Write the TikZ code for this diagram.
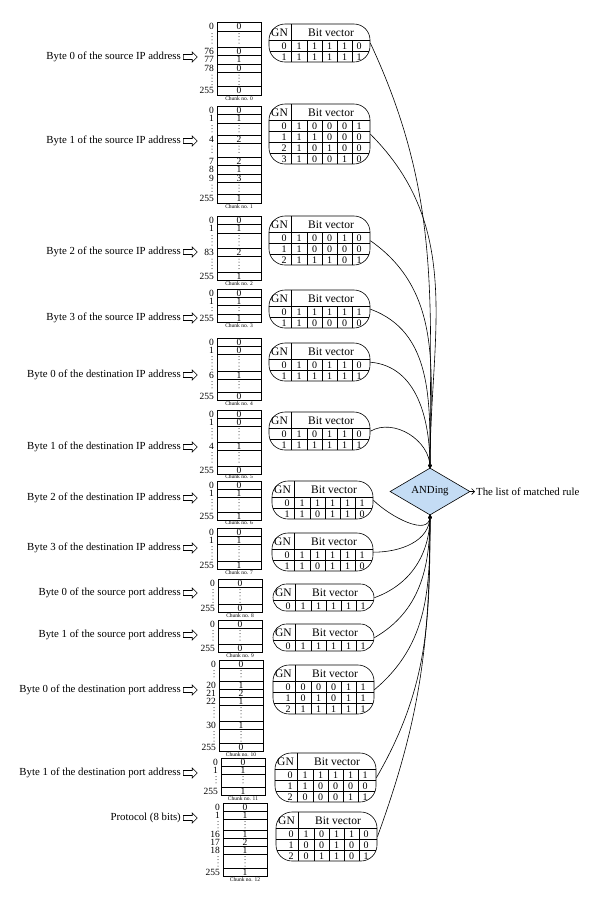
\documentclass[tikz,border=0pt]{standalone}
\usepackage{fontspec}
\setmainfont{Liberation Serif}
\usetikzlibrary{shapes.geometric,shapes.arrows,arrows.meta}
\definecolor{andblue}{RGB}{196,220,244}
\tikzset{
 cline/.style={line width=0.6pt},
 cdots/.style={line width=1pt, line cap=round, dash pattern=on 0pt off 3.2pt},
 cnum/.style={font=\fontsize{9.5}{9.5}\selectfont, inner sep=0pt},
 cval/.style={font=\fontsize{9.5}{9.5}\selectfont, inner sep=0pt},
 ccap/.style={font=\fontsize{5.5}{5.5}\selectfont, inner sep=0pt},
 tline/.style={line width=0.6pt},
 tt/.style={font=\fontsize{10}{10}\selectfont, inner sep=0pt},
 th/.style={font=\fontsize{11.5}{11.5}\selectfont, inner sep=0pt},
 lab/.style={font=\fontsize{10.8}{12}\selectfont, inner sep=0pt},
 harrow/.style={draw, line width=0.6pt, single arrow, minimum height=14pt, inner xsep=0pt, inner ysep=2.2pt, single arrow head extend=2.6pt, single arrow head indent=0pt},
 conn/.style={line width=0.6pt, -{To[length=3pt,width=4pt]}},
}
% chunk row: x, ytop, ybottom, label, value
\newcommand{\CkRow}[5]{%
  \draw[cline] (#1,#2) rectangle (#1+44,#3);
  \node[cnum,anchor=east] at (#1-3,{(#2+#3)/2}) {#4};
  \node[cval] at (#1+22,{(#2+#3)/2}) {#5};
}
% chunk gap: x, ytop, ybottom
\newcommand{\CkGap}[3]{%
  \draw[cline] (#1,#2) rectangle (#1+44,#3);
  \draw[cdots] (#1+22,#2+2.5) -- (#1+22,#3-1.5);
  \draw[cdots] (#1-5,#2+2.5) -- (#1-5,#3-1.5);
}
% bit table: name, L, T, nrows, rows
\newcommand{\BitTab}[5]{%
  \pgfmathsetmacro\BTb{#3+16+11*#4}
  \pgfmathsetmacro\BTr{#2+101}
  \pgfmathsetmacro\BTh{16+11*#4}
  \pgfmathsetmacro\BTrad{min(16,\BTh/2)}
  \begin{scope}
    \clip[rounded corners=\BTrad] (#2,#3) rectangle (\BTr,\BTb);
    \foreach \g/\a/\b/\c/\d/\e [count=\i from 0] in {#5} {
      \pgfmathsetmacro\BTry{#3+16+11*\i}
      \draw[tline] (#2,\BTry) -- (\BTr,\BTry);
      \node[tt] at (#2+15,\BTry+5.8) {\g};
      \node[tt] at (#2+30,\BTry+5.8) {\a};
      \node[tt] at (#2+45.5,\BTry+5.8) {\b};
      \node[tt] at (#2+60.5,\BTry+5.8) {\c};
      \node[tt] at (#2+75.5,\BTry+5.8) {\d};
      \node[tt] at (#2+90,\BTry+5.8) {\e};
    }
    \draw[tline] (#2+22,#3) -- (#2+22,\BTb);
    \foreach \k in {38,53,68,83} \draw[tline] (#2+\k,#3+16) -- (#2+\k,\BTb);
  \end{scope}
  \draw[tline, rounded corners=\BTrad] (#2,#3) rectangle (\BTr,\BTb);
  \node[th] at (#2+10.5,#3+8.5) {GN};
  \node[th] at (#2+62,#3+8.5) {Bit vector};
  \node[inner sep=0pt, minimum width=101pt, minimum height=\BTh pt, anchor=north west] (#1) at (#2,#3) {};
}
\begin{document}
\begin{tikzpicture}[x=1pt,y=-1pt]
\fill[white] (0,0) rectangle (600,903);
\useasboundingbox (0,0) rectangle (600,903);

% ---- left labels with hollow arrows
\foreach \yy/\txt [count=\n] in {
  57/Byte 0 of the source IP address,
  141/Byte 1 of the source IP address,
  252/Byte 2 of the source IP address,
  318/Byte 3 of the source IP address,
  375/Byte 0 of the destination IP address,
  447/Byte 1 of the destination IP address,
  498/Byte 2 of the destination IP address,
  548/Byte 3 of the destination IP address,
  593/Byte 0 of the source port address,
  635/Byte 1 of the source port address,
  690/Byte 0 of the destination port address,
  773/Byte 1 of the destination port address,
  818/Protocol (8 bits)} {
  \node[lab, anchor=east] (L\n) at (181,\yy) {\txt};
  \node[harrow, anchor=west] (A\n) at (183,\yy) {};
}

% ---- chunk 0
\CkRow{217}{22}{31}{0}{0}
\CkGap{217}{31}{47}
\CkRow{217}{47}{55.5}{76}{0}
\CkRow{217}{55.5}{64}{77}{1}
\CkRow{217}{64}{72.5}{78}{0}
\CkGap{217}{72.5}{86.5}
\CkRow{217}{86.5}{95}{255}{0}
\node[ccap] at (239,98.5) {Chunk no. 0};
% ---- chunk 1
\CkRow{217}{106}{114.5}{0}{0}
\CkRow{217}{114.5}{123}{1}{1}
\CkGap{217}{123}{135}
\CkRow{217}{135}{143.5}{4}{2}
\CkGap{217}{143.5}{157}
\CkRow{217}{157}{165.5}{7}{2}
\CkRow{217}{165.5}{174}{8}{1}
\CkRow{217}{174}{182.5}{9}{3}
\CkGap{217}{182.5}{194.5}
\CkRow{217}{194.5}{203}{255}{1}
\node[ccap] at (239,206.5) {Chunk no. 1};
% ---- chunk 2
\CkRow{217}{216}{224.5}{0}{0}
\CkRow{217}{224.5}{233}{1}{1}
\CkGap{217}{233}{248}
\CkRow{217}{248}{256.5}{83}{2}
\CkGap{217}{256.5}{272}
\CkRow{217}{272}{280.5}{255}{1}
\node[ccap] at (239,284) {Chunk no. 2};
% ---- chunk 3
\CkRow{217}{289}{297}{0}{0}
\CkRow{217}{297}{305}{1}{1}
\CkGap{217}{305}{314}
\CkRow{217}{314}{322}{255}{1}
\node[ccap] at (239,325.5) {Chunk no. 3};
% ---- chunk 4
\CkRow{217}{338}{346}{0}{0}
\CkRow{217}{346}{354}{1}{0}
\CkGap{217}{354}{371}
\CkRow{217}{371}{379}{6}{1}
\CkGap{217}{379}{392}
\CkRow{217}{392}{400}{255}{0}
\node[ccap] at (239,403.5) {Chunk no. 4};
% ---- chunk 5
\CkRow{217}{410}{418}{0}{0}
\CkRow{217}{418}{426}{1}{0}
\CkGap{217}{426}{442}
\CkRow{217}{442}{450}{4}{1}
\CkGap{217}{450}{466}
\CkRow{217}{466}{474}{255}{0}
\node[ccap] at (239,477) {Chunk no. 5};
% ---- chunk 6
\CkRow{217}{481}{489}{0}{0}
\CkRow{217}{489}{497}{1}{1}
\CkGap{217}{497}{512}
\CkRow{217}{512}{520}{255}{1}
\node[ccap] at (239,523) {Chunk no. 6};
% ---- chunk 7
\CkRow{217}{528}{536}{0}{0}
\CkRow{217}{536}{544}{1}{1}
\CkGap{217}{544}{561}
\CkRow{217}{561}{569}{255}{1}
\node[ccap] at (239,572.5) {Chunk no. 7};
% ---- chunk 8
\CkRow{218}{579}{587}{0}{0}
\CkGap{218}{587}{604}
\CkRow{218}{604}{612}{255}{0}
\node[ccap] at (240,615.5) {Chunk no. 8};
% ---- chunk 9
\CkRow{218}{620}{628}{0}{0}
\CkGap{218}{628}{644}
\CkRow{218}{644}{652}{255}{0}
\node[ccap] at (240,655.5) {Chunk no. 9};
% ---- chunk 10
\CkRow{219}{660}{668}{0}{0}
\CkGap{219}{668}{681}
\CkRow{219}{681}{689}{20}{1}
\CkRow{219}{689}{697}{21}{2}
\CkRow{219}{697}{705}{22}{1}
\CkGap{219}{705}{721}
\CkRow{219}{721}{729}{30}{1}
\CkGap{219}{729}{743}
\CkRow{219}{743}{751}{255}{0}
\node[ccap] at (241,754.5) {Chunk no. 10};
% ---- chunk 11
\CkRow{221}{758}{766}{0}{0}
\CkRow{221}{766}{774}{1}{1}
\CkGap{221}{774}{787}
\CkRow{221}{787}{795}{255}{1}
\node[ccap] at (243,798.5) {Chunk no. 11};
% ---- chunk 12
\CkRow{223}{803}{811}{0}{0}
\CkRow{223}{811}{819}{1}{1}
\CkGap{223}{819}{830}
\CkRow{223}{830}{838}{16}{1}
\CkRow{223}{838}{846}{17}{2}
\CkRow{223}{846}{854}{18}{1}
\CkGap{223}{854}{868}
\CkRow{223}{868}{876}{255}{1}
\node[ccap] at (245,880) {Chunk no. 12};

% ---- bit vector tables
\BitTab{t0}{269}{24}{2}{0/1/1/1/1/0, 1/1/1/1/1/1}
\BitTab{t1}{269}{104}{4}{0/1/0/0/0/1, 1/1/1/0/0/0, 2/1/0/1/0/0, 3/1/0/0/1/0}
\BitTab{t2}{269}{216}{3}{0/1/0/0/1/0, 1/1/0/0/0/0, 2/1/1/1/0/1}
\BitTab{t3}{269}{290}{2}{0/1/1/1/1/1, 1/1/0/0/0/0}
\BitTab{t4}{269}{343}{2}{0/1/0/1/1/0, 1/1/1/1/1/1}
\BitTab{t5}{269}{412}{2}{0/1/0/1/1/0, 1/1/1/1/1/1}
\BitTab{t6}{272}{481}{2}{0/1/1/1/1/1, 1/1/0/1/1/0}
\BitTab{t7}{272}{533}{2}{0/1/1/1/1/1, 1/1/0/1/1/0}
\BitTab{t8}{273}{584}{1}{0/1/1/1/1/1}
\BitTab{t9}{273}{624}{1}{0/1/1/1/1/1}
\BitTab{t10}{273}{665}{3}{0/0/0/0/1/1, 1/0/1/0/1/1, 2/1/1/1/1/1}
\BitTab{t11}{275}{753}{3}{0/1/1/1/1/1, 1/1/0/0/0/0, 2/0/0/0/1/1}
\BitTab{t12}{276}{812}{3}{0/1/0/1/1/0, 1/0/0/1/0/0, 2/0/1/1/0/1}

% ---- ANDing diamond and output
\node[diamond, draw, line width=0.6pt, fill=andblue, minimum width=80pt, minimum height=47pt, inner sep=0pt, font=\fontsize{10.8}{12}\selectfont] (D) at (430,491.5) {ANDing};
\node[lab, anchor=west, inner sep=1pt] (OUT) at (475,491.5) {The list of matched rule};
\draw[line width=0.6pt, -{Straight Barb[length=3pt,width=6pt]}] (D.east) -- (OUT.west);

% ---- connectors
\foreach \t/\o in {t0/-65, t1/-45, t2/-35, t3/-20, t4/-5, t5/30}
  \draw[conn] (\t.east) to[out=\o, in=90] (D.north);
\foreach \t/\o in {t6/-45, t7/0, t8/20, t9/30, t10/40, t11/60, t12/70}
  \draw[conn] (\t.east) to[out=\o, in=-90] (D.south);
\end{tikzpicture}
\end{document}
